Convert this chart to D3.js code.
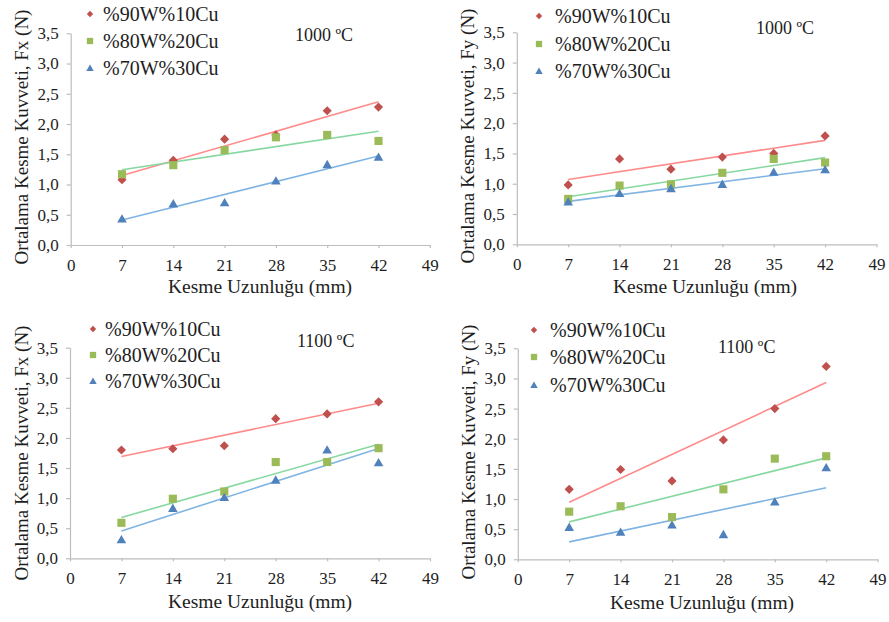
<!DOCTYPE html>
<html>
<head>
<meta charset="utf-8">
<script src="https://cdn.jsdelivr.net/npm/d3@7"></script>
<style>
  html, body { margin: 0; padding: 0; background: #fff; }
  svg { display: block; }
  text { font-family: "Liberation Serif", "Times New Roman", serif; fill: #1e1e1e; }
</style>
</head>
<body>
<svg id="chart" width="889" height="622"></svg>
<script>
// Cutting length (mm) at which forces were measured
const lengths = [7, 14, 21, 28, 35, 42];
const seriesNames = ["%90W%10Cu", "%80W%20Cu", "%70W%30Cu"];
const xTicks = [0, 7, 14, 21, 28, 35, 42, 49];
const yTicks = [0, 0.5, 1, 1.5, 2, 2.5, 3, 3.5];

// Mean cutting force Fx, sintered at 1000 °C
const fx1000_w90 = [1.08, 1.40, 1.75, 1.82, 2.22, 2.28];
const fx1000_w80 = [1.17, 1.32, 1.57, 1.78, 1.82, 1.72];
const fx1000_w70 = [0.43, 0.68, 0.70, 1.06, 1.33, 1.45];

// Mean cutting force Fy, sintered at 1000 °C
const fy1000_w90 = [0.98, 1.41, 1.24, 1.44, 1.50, 1.79];
const fy1000_w80 = [0.75, 0.97, 0.99, 1.18, 1.41, 1.35];
const fy1000_w70 = [0.70, 0.84, 0.92, 0.99, 1.19, 1.23];

// Mean cutting force Fx, sintered at 1100 °C
const fx1100_w90 = [1.80, 1.82, 1.87, 2.32, 2.40, 2.60];
const fx1100_w80 = [0.59, 0.99, 1.11, 1.60, 1.60, 1.83];
const fx1100_w70 = [0.31, 0.83, 1.01, 1.30, 1.80, 1.59];

// Mean cutting force Fy, sintered at 1100 °C
const fy1100_w90 = [1.16, 1.49, 1.30, 1.98, 2.50, 3.20];
const fy1100_w80 = [0.79, 0.88, 0.70, 1.16, 1.67, 1.71];
const fy1100_w70 = [0.53, 0.45, 0.57, 0.41, 0.95, 1.52];

const temperatures = ["1000 ºC", "1000 ºC", "1100 ºC", "1100 ºC"];
const yTitles = ["Ortalama Kesme Kuvveti, Fx (N)", "Ortalama Kesme Kuvveti, Fy (N)",
                 "Ortalama Kesme Kuvveti, Fx (N)", "Ortalama Kesme Kuvveti, Fy (N)"];
const xTitle = "Kesme Uzunluğu (mm)";

const panelSeries = [
  [fx1000_w90, fx1000_w80, fx1000_w70],
  [fy1000_w90, fy1000_w80, fy1000_w70],
  [fx1100_w90, fx1100_w80, fx1100_w70],
  [fy1100_w90, fy1100_w80, fy1100_w70]
];

// Series styling: marker fill and trendline stroke
const markerColors = ["#C0504D", "#9BBB59", "#4F81BD"];
const trendColors = ["#FF8A8A", "#86D8A0", "#80B4E2"];

// Panel geometry (pixels)
const layout = [
  { x0: 70.7, x1: 429.8, y0: 245.0, y1: 33.3,
    yTitle: { x: 28, y: 137 }, xTitle: { x: 260, y: 292.5 },
    legend: { mx: 90, tx: 103, ys: [14, 41, 68] }, temp: { x: 295, y: 41 } },
  { x0: 516.8, x1: 876.5, y0: 244.3, y1: 32.3,
    yTitle: { x: 474, y: 136 }, xTitle: { x: 705, y: 293 },
    legend: { mx: 539, tx: 555, ys: [16, 44, 71] }, temp: { x: 756, y: 34 } },
  { x0: 70.0, x1: 430.0, y0: 558.3, y1: 347.7,
    yTitle: { x: 28, y: 453 }, xTitle: { x: 260, y: 608 },
    legend: { mx: 93, tx: 105, ys: [329, 355, 381] }, temp: { x: 297, y: 347 } },
  { x0: 517.8, x1: 877.6, y0: 559.3, y1: 348.3,
    yTitle: { x: 475, y: 452 }, xTitle: { x: 702, y: 609 },
    legend: { mx: 534, tx: 550, ys: [330, 357, 385] }, temp: { x: 718, y: 353 } }
];

const svg = d3.select("#chart");
const fmt = d => d.toFixed(1).replace(".", ",");

function markerPath(kind, big) {
  if (kind === 0) return d3.symbol().type(d3.symbolSquare).size(big ? 42 : 20)();
  if (kind === 1) return d3.symbol().type(d3.symbolSquare).size(big ? 66 : 40)();
  return d3.symbol().type(d3.symbolTriangle).size(big ? 40 : 24)();
}
function markerTransform(kind, x, y) {
  return kind === 0 ? `translate(${x},${y}) rotate(45)` : `translate(${x},${y + (kind === 2 ? 0.8 : 0)})`;
}

// Least-squares line through the measured points, as drawn by a linear trendline
function fitLine(xs, ys) {
  const mx = d3.mean(xs), my = d3.mean(ys);
  let sxy = 0, sxx = 0;
  xs.forEach((x, i) => { sxy += (x - mx) * (ys[i] - my); sxx += (x - mx) * (x - mx); });
  const b = sxy / sxx, a = my - b * mx;
  return x => a + b * x;
}

panelSeries.forEach((series, p) => {
  const L = layout[p];
  const x = d3.scaleLinear().domain([0, 49]).range([L.x0, L.x1]);
  const y = d3.scaleLinear().domain([0, 3.5]).range([L.y0, L.y1]);
  const g = svg.append("g");

  // Axes
  const ya = g.append("g").attr("transform", `translate(${L.x0},0)`)
    .call(d3.axisLeft(y).tickValues(yTicks).tickFormat(fmt).tickSize(4).tickSizeOuter(0).tickPadding(8));
  const xa = g.append("g").attr("transform", `translate(0,${L.y0})`)
    .call(d3.axisBottom(x).tickValues(xTicks).tickFormat(d3.format("d")).tickSize(3).tickSizeOuter(0).tickPadding(11));
  [ya, xa].forEach(a => {
    a.attr("font-family", null);
    a.select(".domain").attr("stroke", "#bdbdbd").attr("stroke-width", 1.2);
    a.selectAll(".tick line").attr("stroke", "#bdbdbd").attr("stroke-width", 1.2);
    a.selectAll(".tick text").attr("fill", "#1e1e1e")
      .style("font-family", '"Liberation Serif", serif').style("font-size", "17px");
  });

  // Trendlines
  series.forEach((vals, s) => {
    const f = fitLine(lengths, vals);
    const xsEnd = [lengths[0], lengths[lengths.length - 1]];
    g.append("path")
      .attr("d", d3.line().x(d => x(d)).y(d => y(f(d)))(xsEnd))
      .attr("fill", "none").attr("stroke", trendColors[s]).attr("stroke-width", 1.6);
  });

  // Markers
  series.forEach((vals, s) => {
    g.append("g").selectAll("path").data(vals).join("path")
      .attr("d", markerPath(s, true))
      .attr("transform", (v, i) => markerTransform(s, x(lengths[i]), y(v)))
      .attr("fill", markerColors[s]);
  });

  // Axis titles
  g.append("text")
    .attr("transform", `translate(${L.yTitle.x},${L.yTitle.y}) rotate(-90)`)
    .attr("text-anchor", "middle").style("font-size", "19px")
    .text(yTitles[p]);
  g.append("text")
    .attr("x", L.xTitle.x).attr("y", L.xTitle.y)
    .attr("text-anchor", "middle").style("font-size", "19.5px")
    .text(xTitle);

  // Legend
  seriesNames.forEach((name, s) => {
    const cy = L.legend.ys[s];
    g.append("path").attr("d", markerPath(s, false))
      .attr("transform", markerTransform(s, L.legend.mx, cy))
      .attr("fill", markerColors[s]);
    g.append("text").attr("x", L.legend.tx).attr("y", cy + 7)
      .style("font-size", "20px").text(name);
  });

  // Sintering temperature label
  g.append("text").attr("x", L.temp.x).attr("y", L.temp.y)
    .style("font-size", "18px").text(temperatures[p]);
});
</script>
</body>
</html>
